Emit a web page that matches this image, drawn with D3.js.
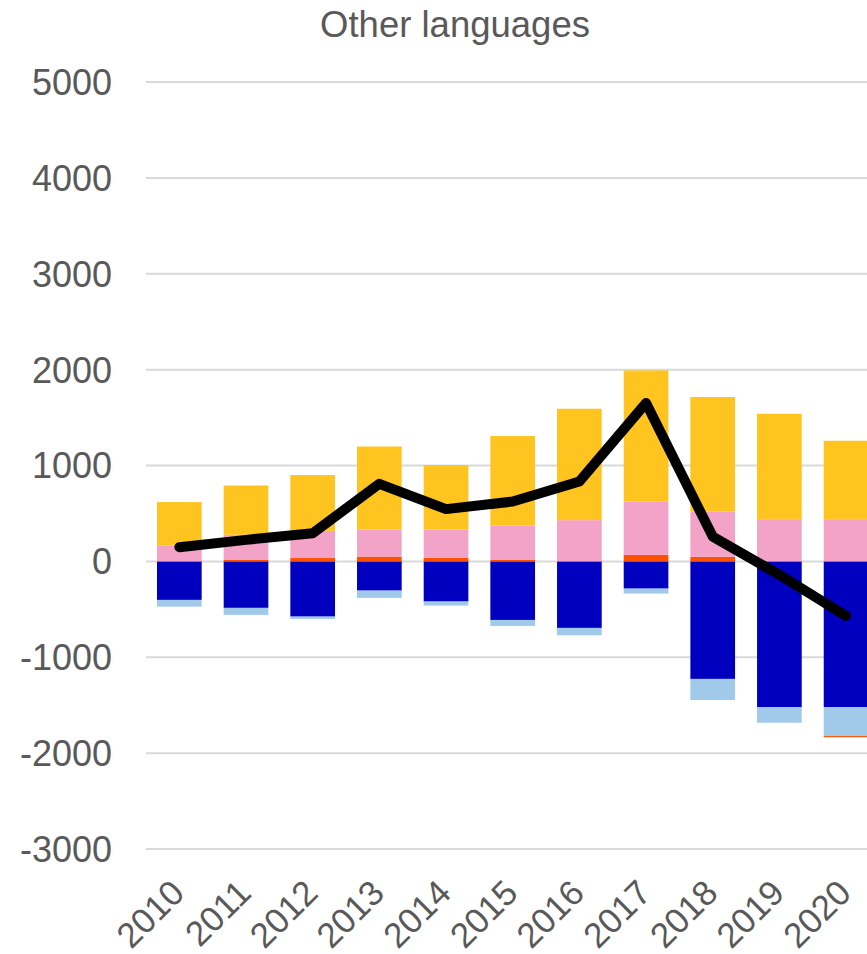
<!DOCTYPE html>
<html>
<head>
<meta charset="utf-8">
<script src="https://cdn.jsdelivr.net/npm/d3@7"></script>
<style>
  body { margin: 0; background: #fff; }
  text { font-family: "Liberation Sans", Arial, sans-serif; fill: #595959; }
</style>
</head>
<body>
<div id="chart"></div>
<script>
// chart data
var years = ["2010", "2011", "2012", "2013", "2014", "2015", "2016", "2017", "2018", "2019", "2020"];
var blueVals = [-402, -485, -576, -305, -419, -611, -694, -284, -1226, -1522, -1519];
var lightBlueVals = [-70, -73, -24, -76, -42, -62, -77, -52, -220, -161, -303];
var orangeVals = [0, 15, 35, 50, 37, 15, 0, 68, 47, 0, -12];
var pinkVals = [165, 262, 283, 282, 295, 359, 430, 556, 473, 440, 440];
var yellowVals = [453, 514, 582, 866, 672, 933, 1162, 1368, 1194, 1100, 818];
var netVals = [148, 224, 294, 809, 545, 624, 833, 1651, 259, -140, -569];
var yTicks = [-3000, -2000, -1000, 0, 1000, 2000, 3000, 4000, 5000];

var seriesKeys = ["blue", "lightBlue", "orange", "pink", "yellow"];
var colors = {
  blue: "#0000be",
  lightBlue: "#a0c9ea",
  orange: "#ff5000",
  pink: "#f4a3c8",
  yellow: "#ffc41f"
};

var svgWidth = 867;
var svgHeight = 954;

// build rows for the stack
var rows = years.map(function(y, i) {
  return {
    year: y,
    blue: blueVals[i],
    lightBlue: lightBlueVals[i],
    orange: orangeVals[i],
    pink: pinkVals[i],
    yellow: yellowVals[i]
  };
});

var svg = d3.select("#chart")
  .append("svg")
  .attr("width", svgWidth)
  .attr("height", svgHeight);

var x = d3.scaleBand()
  .domain(years)
  .range([146, 879.4])
  .paddingInner(0.33)
  .paddingOuter(0.165);

var y = d3.scaleLinear()
  .domain([-3000, 5000])
  .range([849, 82]);

// gridlines
svg.append("g")
  .selectAll("line")
  .data(yTicks)
  .join("line")
  .attr("x1", 146)
  .attr("x2", svgWidth)
  .attr("y1", d => y(d))
  .attr("y2", d => y(d))
  .attr("stroke", "#d9d9d9")
  .attr("stroke-width", 2);

// y tick labels
svg.append("g")
  .selectAll("text")
  .data(yTicks)
  .join("text")
  .attr("x", 112)
  .attr("y", d => y(d))
  .attr("dy", "0.36em")
  .attr("text-anchor", "end")
  .attr("font-size", "36px")
  .text(d => d);

// stacked bars
var stacked = d3.stack()
  .keys(seriesKeys)
  .offset(d3.stackOffsetDiverging)(rows);

svg.append("g")
  .selectAll("g")
  .data(stacked)
  .join("g")
  .attr("fill", d => colors[d.key])
  .selectAll("rect")
  .data(d => d)
  .join("rect")
  .attr("x", d => x(d.data.year))
  .attr("width", x.bandwidth())
  .attr("y", d => y(Math.max(d[0], d[1])))
  .attr("height", d => Math.abs(y(d[0]) - y(d[1])));

// net line
var line = d3.line()
  .x((d, i) => x(years[i]) + x.bandwidth() / 2)
  .y(d => y(d));

svg.append("path")
  .datum(netVals)
  .attr("d", line)
  .attr("fill", "none")
  .attr("stroke", "#000")
  .attr("stroke-width", 10)
  .attr("stroke-linecap", "round")
  .attr("stroke-linejoin", "round");

// x labels, rotated
svg.append("g")
  .selectAll("text")
  .data(years)
  .join("text")
  .attr("transform", d => `translate(${x(d) + x.bandwidth() / 2 + 7}, 895) rotate(-45)`)
  .attr("text-anchor", "end")
  .attr("font-size", "35px")
  .text(d => d);

// title
svg.append("text")
  .attr("x", 455)
  .attr("y", 37)
  .attr("text-anchor", "middle")
  .attr("font-size", "36.5px")
  .text("Other languages");
</script>
</body>
</html>
